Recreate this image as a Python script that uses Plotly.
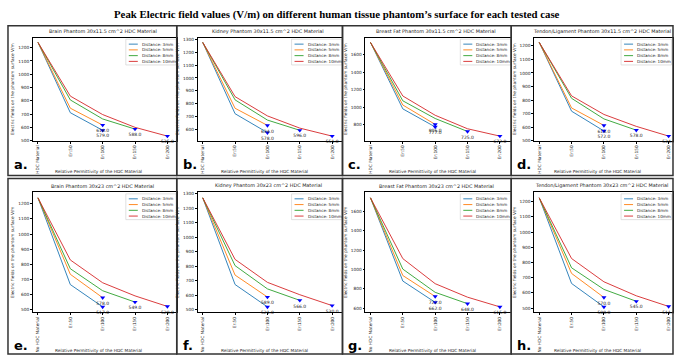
import plotly.graph_objects as go

W, H = 674, 355

categories = ["No HDC Material", "Er:50", "Er:100", "Er:150", "Er:200"]
distance_labels = ["Distance: 3mm", "Distance: 5mm", "Distance: 8mm", "Distance: 10mm"]

panel_titles = [
    "Brain Phantom 30x11.5 cm^2 HDC Material",
    "Kidney Phantom 30x11.5 cm^2 HDC Material",
    "Breast Fat Phantom 30x11.5 cm^2 HDC Material",
    "Tendon/Ligament Phantom 30x11.5 cm^2 HDC Material",
    "Brain Phantom 30x23 cm^2 HDC Material",
    "Kidney Phantom 30x23 cm^2 HDC Material",
    "Breast Fat Phantom 30x23 cm^2 HDC Material",
    "Tendon/Ligament Phantom 30x23 cm^2 HDC Material",
]
panel_letters = ["a.", "b.", "c.", "d.", "e.", "f.", "g.", "h."]

# series values per panel: [3mm, 5mm, 8mm, 10mm]
brain_11 = [[1240, 711, 579], [1240, 745, 618], [1240, 807, 664, 588], [1240, 836, 697, 601, 535]]
kidney_11 = [[1275, 724, 578], [1275, 766, 634], [1275, 831, 675, 596], [1275, 856, 707, 613, 551]]
breast_11 = [[1742, 983, 777], [1742, 1027, 806], [1742, 1075, 873, 725], [1742, 1130, 910, 756, 672]]
tendon_11 = [[1226, 718, 572], [1226, 742, 613], [1226, 813, 661, 578], [1226, 831, 694, 606, 534]]
brain_23 = [[1240, 665, 517], [1240, 733, 578], [1240, 770, 624, 549], [1240, 828, 677, 590, 520]]
kidney_23 = [[1272, 675, 521], [1272, 740, 589], [1272, 805, 645, 566], [1272, 848, 690, 605, 530]]
breast_23 = [[1738, 881, 662], [1738, 938, 722], [1738, 1004, 765, 648], [1738, 1112, 854, 715, 615]]
tendon_23 = [[1225, 662, 508], [1225, 728, 570], [1225, 765, 623, 545], [1225, 826, 673, 581, 511]]
panels = [brain_11, kidney_11, breast_11, tendon_11, brain_23, kidney_23, breast_23, tendon_23]

y_tick_steps = [100, 100, 200, 100, 100, 100, 200, 100]

colors = ["#1f77b4", "#ff7f0e", "#2ca02c", "#d62728"]
FONT = "DejaVu Sans"

def fx(px):
    return px / W

def fy(py):
    return 1 - py / H

ax_lefts = [33, 198, 366, 535]
ax_rights = [177, 343, 512, 674]
row_y = [(37, 141), (193, 314)]
panel_x = [8, 177, 343, 512, 674]
panel_y = [(25, 176), (179, 356)]
SP = 32.4

fig = go.Figure()
layout = dict(
    width=W, height=H, margin=dict(l=0, r=0, t=0, b=0),
    paper_bgcolor="white", plot_bgcolor="white", showlegend=False,
)
annotations = []
shapes = []

def txt(x, y, text, size, color="#222", xanchor="center", family=FONT):
    annotations.append(dict(
        x=fx(x), y=fy(y), xref="paper", yref="paper", text=text, showarrow=False,
        xanchor=xanchor, yanchor="middle",
        font=dict(family=family, size=size, color=color),
    ))

for i, series in enumerate(panels):
    row, col = divmod(i, 4)
    n = i + 1
    xa = "x" if n == 1 else f"x{n}"
    ya = "y" if n == 1 else f"y{n}"
    L, R = ax_lefts[col], ax_rights[col]
    top, bot = row_y[row]
    for k, vals in enumerate(series):
        fig.add_trace(go.Scatter(
            x=categories[:len(vals)], y=vals, mode="lines",
            line=dict(color=colors[k], width=0.9), name=distance_labels[k],
            xaxis=xa, yaxis=ya,
        ))
    for k, vals in enumerate(series):
        fig.add_trace(go.Scatter(
            x=[categories[len(vals) - 1]], y=[vals[-1]], mode="markers+text",
            marker=dict(symbol="triangle-down", color="#0000ff", size=4.5),
            text=[f"{vals[-1]:.1f}"], textposition="bottom center",
            textfont=dict(family=FONT, size=4.5, color="#222"),
            xaxis=xa, yaxis=ya, cliponaxis=False,
        ))
    allv = [v for s in series for v in s]
    lo, hi = min(allv), max(allv)
    pad = (hi - lo) * 0.05
    step = y_tick_steps[i]
    xkey = "xaxis" if n == 1 else f"xaxis{n}"
    ykey = "yaxis" if n == 1 else f"yaxis{n}"
    layout[xkey] = dict(
        domain=[fx(L), fx(R)], anchor=ya, type="category",
        categoryorder="array", categoryarray=categories,
        range=[-0.155, -0.155 + (R - L) / SP],
        showline=True, linecolor="black", linewidth=0.7, mirror=True,
        ticks="outside", ticklen=2, tickwidth=0.6, tickcolor="black",
        tickangle=-90, tickfont=dict(family=FONT, size=4.3, color="#222"),
        showgrid=False, zeroline=False, fixedrange=True,
    )
    layout[ykey] = dict(
        domain=[fy(bot), fy(top)], anchor=xa, range=[lo - pad, hi + pad],
        dtick=step, tick0=0,
        showline=True, linecolor="black", linewidth=0.7, mirror=True,
        ticks="outside", ticklen=2, tickwidth=0.6, tickcolor="black",
        tickfont=dict(family=FONT, size=4.3, color="#222"),
        title=dict(text="Electric fields on the phantom surface V/m",
                   font=dict(family=FONT, size=4.3, color="#222"), standoff=3),
        showgrid=False, zeroline=False, fixedrange=True,
    )
    # legend (box, sample lines, labels)
    if col < 3:
        bx1 = R - 0.5
        bx0 = R - 51
    else:
        bx1 = R - 1.5
        bx0 = R - 52
    by0 = top + 1.5
    by1 = by0 + 26
    shapes.append(dict(type="rect", xref="paper", yref="paper",
                       x0=fx(bx0), x1=fx(bx1), y0=fy(by1), y1=fy(by0),
                       fillcolor="rgba(255,255,255,0.85)",
                       line=dict(color="#cccccc", width=0.6), layer="above"))
    for k in range(4):
        ly = by0 + 5 + k * 5.8
        shapes.append(dict(type="line", xref="paper", yref="paper",
                           x0=fx(bx0 + 3), x1=fx(bx0 + 12), y0=fy(ly), y1=fy(ly),
                           line=dict(color=colors[k], width=0.9), layer="above"))
        txt(bx0 + 14, ly, distance_labels[k], 4.1, xanchor="left")
    # subplot title
    txt((L + R) / 2 - 2, top - 6.5, panel_titles[i], 4.9)
    # x label
    txt((L + R) / 2 - 6, 172 if row == 0 else 352,
        "Relative Permittivity of the HDC Material", 4.3)
    # panel letter
    txt(panel_x[col] + 4, 165 if row == 0 else 347, f"<b>{panel_letters[i]}</b>",
        13, color="black", xanchor="left")

# crop strip between the rows
shapes.insert(0, dict(type="rect", xref="paper", yref="paper",
                      x0=0, x1=1, y0=fy(190), y1=fy(176.5),
                      fillcolor="white", line=dict(width=0), layer="above"))
# panel frames
for row in range(2):
    y0p, y1p = panel_y[row]
    for col in range(4):
        shapes.append(dict(type="rect", xref="paper", yref="paper",
                           x0=fx(panel_x[col]), x1=fx(panel_x[col + 1]),
                           y0=fy(y1p), y1=fy(y0p),
                           line=dict(color="#333333", width=1.5), layer="above"))

txt(W / 2, 14,
    "<b>Peak Electric field values (V/m) on different human tissue phantom’s surface for each tested case</b>",
    10.8, color="black", family="Liberation Serif")

layout["annotations"] = annotations
layout["shapes"] = shapes
fig.update_layout(**layout)
fig.write_html("out.html")
